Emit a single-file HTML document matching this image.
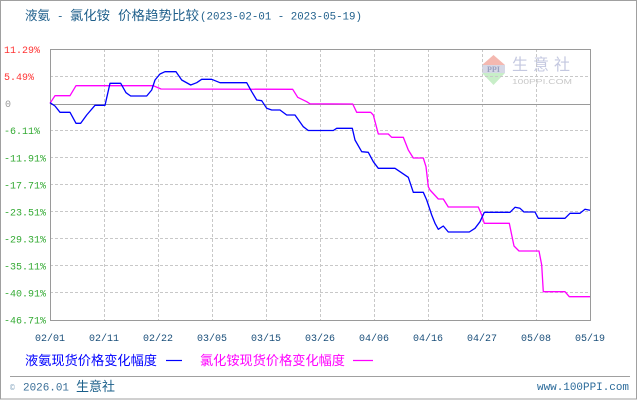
<!DOCTYPE html>
<html><head><meta charset="utf-8">
<style>
html,body{margin:0;padding:0;background:#fff;}
svg{display:block;}
</style></head>
<body>
<svg width="640" height="400" viewBox="0 0 640 400" xmlns="http://www.w3.org/2000/svg">
<rect x="0" y="0" width="640" height="400" fill="#fff"/>
<rect x="0.5" y="0.5" width="636" height="398.5" fill="none" stroke="#a0a0a0" stroke-width="1"/>

<!-- title -->
<g fill="#1f5f8b">
<text x="25" y="20" font-family="'Liberation Sans','Noto Sans CJK SC',sans-serif" font-size="13" textLength="25" lengthAdjust="spacingAndGlyphs">液氨</text>
<text x="57" y="19.5" font-family="'Liberation Mono',monospace" font-size="10.8">-</text>
<text x="70" y="20" font-family="'Liberation Sans','Noto Sans CJK SC',sans-serif" font-size="13" textLength="40" lengthAdjust="spacingAndGlyphs">氯化铵</text>
<text x="118" y="20" font-family="'Liberation Sans','Noto Sans CJK SC',sans-serif" font-size="13" textLength="81" lengthAdjust="spacingAndGlyphs">价格趋势比较</text>
<text x="200" y="19.5" font-family="'Liberation Mono',monospace" font-size="10.8" textLength="162" lengthAdjust="spacingAndGlyphs">(2023-02-01 - 2023-05-19)</text>
</g>

<!-- watermark -->
<g>
<polygon points="482,65 493.5,55 505,65" fill="#f4b8b0"/>
<rect x="482" y="65" width="23" height="8" fill="#d6d8e6"/>
<text x="493.5" y="72" text-anchor="middle" font-family="'Liberation Serif',serif" font-size="8" font-weight="bold" fill="#9aa0c0">PPI</text>
<polygon points="482,73 505,73 493.5,85" fill="#c8eec8"/>
<text x="512" y="70" font-family="'Liberation Sans','Noto Sans CJK SC',sans-serif" font-size="16" fill="#c4c8e0" textLength="58" lengthAdjust="spacing">生意社</text>
<text x="512" y="84" font-family="'Liberation Sans',sans-serif" font-size="7.5" fill="#c8c8c8" textLength="60" lengthAdjust="spacingAndGlyphs">100PPI.COM</text>
</g>

<!-- grid -->
<g stroke="#c8c8c8" stroke-width="1" stroke-dasharray="3,2" fill="none">
<line x1="50" y1="76.5" x2="590" y2="76.5"/>
<line x1="50" y1="130.5" x2="590" y2="130.5"/>
<line x1="50" y1="157.5" x2="590" y2="157.5"/>
<line x1="50" y1="184.5" x2="590" y2="184.5"/>
<line x1="50" y1="211.5" x2="590" y2="211.5"/>
<line x1="50" y1="238.5" x2="590" y2="238.5"/>
<line x1="50" y1="265.5" x2="590" y2="265.5"/>
<line x1="50" y1="292.5" x2="590" y2="292.5"/>
<line x1="104.5" y1="49" x2="104.5" y2="320"/>
<line x1="158.5" y1="49" x2="158.5" y2="320"/>
<line x1="212.5" y1="49" x2="212.5" y2="320"/>
<line x1="266.5" y1="49" x2="266.5" y2="320"/>
<line x1="320.5" y1="49" x2="320.5" y2="320"/>
<line x1="374.5" y1="49" x2="374.5" y2="320"/>
<line x1="428.5" y1="49" x2="428.5" y2="320"/>
<line x1="482.5" y1="49" x2="482.5" y2="320"/>
<line x1="536.5" y1="49" x2="536.5" y2="320"/>
</g>
<line x1="50" y1="104.5" x2="590" y2="104.5" stroke="#9a9a9a" stroke-width="1"/>
<rect x="50.5" y="49.5" width="540" height="271" fill="none" stroke="#9a9a9a" stroke-width="1"/>

<!-- y labels -->
<g font-family="'Liberation Mono',monospace" font-size="10">
<text x="4" y="53" fill="#ff3333">11.29%</text>
<text x="4" y="80" fill="#ff3333">5.49%</text>
<text x="5" y="107" fill="#999999">0</text>
<text x="4" y="134" fill="#33aa33">-6.11%</text>
<text x="4" y="161.5" fill="#33aa33">-11.91%</text>
<text x="4" y="188.5" fill="#33aa33">-17.71%</text>
<text x="4" y="215.5" fill="#33aa33">-23.51%</text>
<text x="4" y="242.5" fill="#33aa33">-29.31%</text>
<text x="4" y="269.5" fill="#33aa33">-35.11%</text>
<text x="4" y="296.5" fill="#33aa33">-40.91%</text>
<text x="4" y="323.5" fill="#33aa33">-46.71%</text>
</g>

<!-- x labels -->
<g font-family="'Liberation Mono',monospace" font-size="10" fill="#1a4f7a" text-anchor="middle">
<text x="50" y="341">02/01</text>
<text x="104" y="341">02/11</text>
<text x="158" y="341">02/22</text>
<text x="212" y="341">03/05</text>
<text x="266" y="341">03/15</text>
<text x="320" y="341">03/26</text>
<text x="374" y="341">04/06</text>
<text x="428" y="341">04/16</text>
<text x="482" y="341">04/27</text>
<text x="536" y="341">05/08</text>
<text x="590" y="341">05/19</text>
</g>

<!-- series -->
<polyline fill="none" stroke="#ff00ff" stroke-width="1.3" stroke-linejoin="round" points="50,103.3 55,95.7 70,95.7 76,85.7 153.3,85.7 161,89 292.7,89.3 297.7,97.3 306.7,101.7 310,103.8 352.7,104 356.7,112.3 370.7,112.3 373.3,115 378.3,134 388.3,134 391.7,137.3 403.3,137.3 408.3,150 413.3,158 423.3,158 426,166.7 428.3,186.7 430,190 438.3,199 443.3,199 448.3,207 478.3,207 481.7,215 484.3,223.3 509.3,223.3 511.7,235 514,246 519,251 539,251 541.7,265 543.3,291.7 565,291.7 569.3,296.7 590,296.7"/>
<polyline fill="none" stroke="#0000ff" stroke-width="1.3" stroke-linejoin="round" points="50,102.7 55,106 60,112.3 70,112.3 76,123.3 80.7,123.3 86.7,115 95,105.3 105,105.3 110,83.3 120.7,83.3 126,92.7 130.7,96 146.7,96 151.7,90 155,80 160,74 165,71.7 176,71.7 181.7,80 190.7,85 196.7,82.7 201.7,79.3 211.7,79.3 220,82.7 246.7,82.7 251.7,91.7 256.7,100 261.7,100.7 266.7,108.3 271.7,110 280,110 286.7,115 295,115 303.3,126.7 308.3,130.5 333.3,130.5 336.7,128.3 352.3,128.3 355,140 361.7,151.7 368.3,152.3 373.3,161.7 378.3,168.3 395,168.3 400,171.7 408.3,177.3 413.3,192.3 423.3,192.3 426.7,200 431.7,215 435,223.3 438.3,229.3 443.3,226 448.3,232 469.3,232 475,228.3 480,221.7 484.3,212.3 510,212.3 515,207.3 520,208.3 524,212 535,212 538.3,218.3 565,218.3 570,213.3 580,213.3 585,209.3 590,210.3"/>

<!-- legend -->
<text x="25" y="365" font-family="'Liberation Sans','Noto Sans CJK SC',sans-serif" font-size="13" fill="#0000ff" textLength="132" lengthAdjust="spacingAndGlyphs">液氨现货价格变化幅度</text>
<line x1="166" y1="360.5" x2="182" y2="360.5" stroke="#0000ff" stroke-width="1.2"/>
<text x="200" y="365" font-family="'Liberation Sans','Noto Sans CJK SC',sans-serif" font-size="13" fill="#ff00ff" textLength="145" lengthAdjust="spacingAndGlyphs">氯化铵现货价格变化幅度</text>
<line x1="353" y1="360.5" x2="373" y2="360.5" stroke="#ff00ff" stroke-width="1.2"/>

<!-- footer -->
<line x1="10" y1="376.5" x2="630" y2="376.5" stroke="#a0a0a0" stroke-width="1"/>
<text x="10" y="390" font-family="'Liberation Mono',monospace" font-size="8" fill="#8aa8c0">©</text>
<text x="23" y="390.5" font-family="'Liberation Mono',monospace" font-size="11" fill="#3a6f98" textLength="46" lengthAdjust="spacingAndGlyphs">2026.01</text>
<text x="76" y="391" font-family="'Liberation Sans','Noto Sans CJK SC',sans-serif" font-size="13" fill="#1a5f8a" textLength="39" lengthAdjust="spacingAndGlyphs">生意社</text>
<text x="537" y="390" font-family="'Liberation Mono',monospace" font-size="11" fill="#2a6a9a" textLength="92" lengthAdjust="spacingAndGlyphs">www.100PPI.com</text>
</svg>
</body></html>
